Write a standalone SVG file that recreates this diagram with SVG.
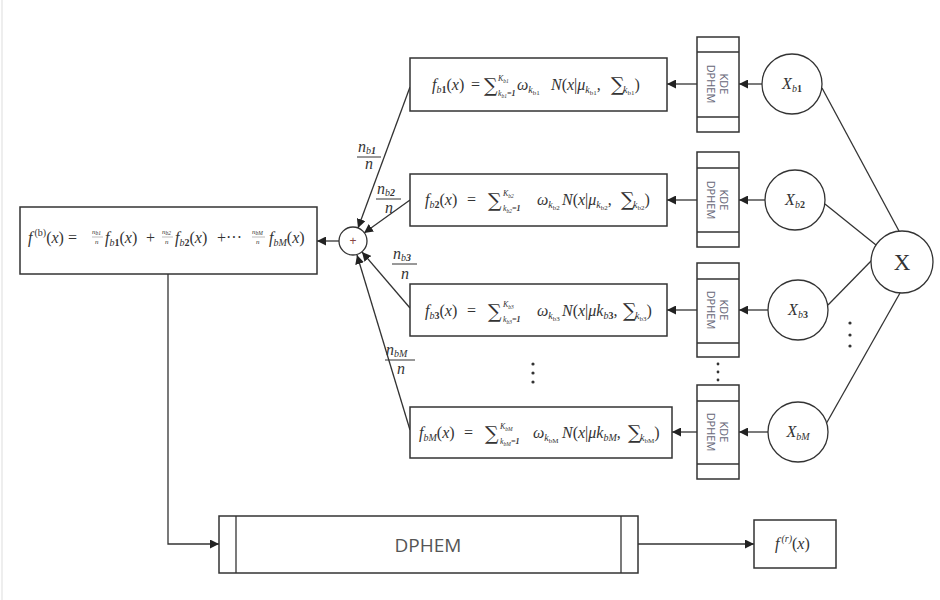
<svg xmlns="http://www.w3.org/2000/svg" width="940" height="600" viewBox="0 0 940 600">
<defs>
<marker id="ah" viewBox="0 0 10 10" refX="10" refY="5" markerWidth="9" markerHeight="9" markerUnits="userSpaceOnUse" orient="auto">
<path d="M0,0 L10,5 L0,10 z" fill="#222"/>
</marker>
<style>
.box{fill:#fff;stroke:#333;stroke-width:1.5}
.ln{fill:none;stroke:#333;stroke-width:1.3}
.arr{fill:none;stroke:#333;stroke-width:1.3;marker-end:url(#ah)}
.m{font-family:"Liberation Serif","DejaVu Serif",serif;font-size:16px;fill:#333}
.i{font-style:italic}
.s{font-size:10px}
.t{font-size:7px}
.l{font-size:8px}
.lt{font-size:5.5px}
.f{font-size:7px}
.b{font-weight:bold}
.sig{font-family:"DejaVu Serif","Liberation Serif",serif;font-size:19px;fill:#333}
.kde{font-family:"Open Sans","Liberation Sans",sans-serif;font-size:11px;fill:#667}
.dot{fill:#333}
</style>
</defs>
<rect x="0" y="0" width="940" height="600" fill="#fff"/>
<line x1="2" y1="0" x2="2" y2="600" stroke="#ddd" stroke-width="1"/>

<g id="connectors">
<line class="arr" x1="762" y1="84" x2="739" y2="84"/>
<line class="arr" x1="697" y1="84" x2="667" y2="84"/>
<line class="arr" x1="765" y1="200" x2="739" y2="200"/>
<line class="arr" x1="697" y1="200" x2="667" y2="200"/>
<line class="arr" x1="768" y1="310" x2="739" y2="310"/>
<line class="arr" x1="697" y1="310" x2="667" y2="310"/>
<line class="arr" x1="768" y1="432" x2="739" y2="432"/>
<line class="arr" x1="697" y1="432" x2="672" y2="432"/>
<line class="ln" x1="822" y1="88" x2="899" y2="231"/>
<line class="ln" x1="825" y1="204" x2="876" y2="245"/>
<line class="ln" x1="828" y1="305" x2="873" y2="259"/>
<line class="ln" x1="826" y1="424" x2="900" y2="293"/>
<line class="arr" x1="410" y1="87" x2="358" y2="228"/>
<line class="arr" x1="410" y1="200" x2="364" y2="233"/>
<line class="arr" x1="410" y1="308" x2="362" y2="252"/>
<line class="arr" x1="410" y1="430" x2="357" y2="255"/>
<line class="arr" x1="339" y1="241" x2="317" y2="241"/>
<polyline class="arr" points="168,274 168,544 219,544"/>
<line class="arr" x1="638" y1="544" x2="754" y2="544"/>
</g>

<g id="labels">
<text class="m i" x="358" y="152">n<tspan class="s" dy="2">b</tspan><tspan class="s b">1</tspan></text>
<line x1="357" y1="157" x2="381" y2="157" stroke="#333" stroke-width="1"/>
<text class="m i" x="365" y="169">n</text>
<text class="m i" x="377" y="194">n<tspan class="s" dy="2">b</tspan><tspan class="s b">2</tspan></text>
<line x1="376" y1="199" x2="401" y2="199" stroke="#333" stroke-width="1"/>
<text class="m i" x="385" y="213">n</text>
<text class="m i" x="393" y="259">n<tspan class="s" dy="2">b</tspan><tspan class="s b">3</tspan></text>
<line x1="392" y1="264" x2="417" y2="264" stroke="#333" stroke-width="1"/>
<text class="m i" x="401" y="279">n</text>
<text class="m i" x="386" y="355">n<tspan class="s" dy="2">bM</tspan></text>
<line x1="385" y1="360" x2="415" y2="360" stroke="#333" stroke-width="1"/>
<text class="m i" x="397" y="374">n</text>
<circle class="dot" cx="533" cy="364" r="1.6"/>
<circle class="dot" cx="533" cy="373" r="1.6"/>
<circle class="dot" cx="533" cy="382" r="1.6"/>
<circle class="dot" cx="718" cy="364" r="1.4"/>
<circle class="dot" cx="718" cy="372" r="1.4"/>
<circle class="dot" cx="718" cy="380" r="1.4"/>
<circle class="dot" cx="850" cy="323" r="1.6"/>
<circle class="dot" cx="850" cy="335" r="1.6"/>
<circle class="dot" cx="850" cy="346" r="1.6"/>
</g>

<g id="fb">
<rect class="box" x="20" y="207" width="297" height="67"/>
<text class="m" x="28" y="243"><tspan class="i">f</tspan><tspan class="s" dx="2" dy="-7">(b)</tspan><tspan dy="7">(</tspan><tspan class="i">x</tspan>) =</text>
<text class="m i f" x="92" y="234">n<tspan class="lt" dy="1">b1</tspan></text>
<line x1="92" y1="237" x2="103" y2="237" stroke="#777" stroke-width="0.5"/>
<text class="m i f" x="95" y="244">n</text>
<text class="m" x="105" y="243"><tspan class="i">f</tspan><tspan class="s i" dy="3">b</tspan><tspan class="s b">1</tspan><tspan dy="-3">(</tspan><tspan class="i">x</tspan>)</text>
<text class="m" x="146" y="243">+</text>
<text class="m i f" x="162" y="234">n<tspan class="lt" dy="1">b2</tspan></text>
<line x1="162" y1="237" x2="173" y2="237" stroke="#777" stroke-width="0.5"/>
<text class="m i f" x="165" y="244">n</text>
<text class="m" x="175" y="243"><tspan class="i">f</tspan><tspan class="s i" dy="3">b</tspan><tspan class="s b">2</tspan><tspan dy="-3">(</tspan><tspan class="i">x</tspan>)</text>
<text class="m" x="217" y="243">+···</text>
<text class="m i f" x="252" y="234">n<tspan class="lt" dy="1">bM</tspan></text>
<line x1="252" y1="237" x2="265" y2="237" stroke="#777" stroke-width="0.5"/>
<text class="m i f" x="256" y="244">n</text>
<text class="m" x="269" y="243"><tspan class="i">f</tspan><tspan class="s i" dy="3">bM</tspan><tspan dy="-3">(</tspan><tspan class="i">x</tspan>)</text>
</g>

<g id="plus">
<circle cx="353" cy="241" r="14" fill="#fff" stroke="#333" stroke-width="1.3"/>
<text x="353" y="245" text-anchor="middle" font-family="Liberation Sans,sans-serif" font-size="12" fill="#844">+</text>
</g>

<g id="f1">
<rect class="box" x="410" y="58" width="257" height="53"/>
<text class="m" x="432" y="90"><tspan class="i">f</tspan><tspan class="s i" dy="3">b</tspan><tspan class="s b">1</tspan><tspan dy="-3">(</tspan><tspan class="i">x</tspan>)</text>
<text class="m" x="471" y="90">=</text>
<text class="sig" x="484" y="92">∑</text>
<text class="m i l" x="498" y="81">K<tspan class="lt" dy="1.5">b1</tspan></text>
<text class="m i l" x="498" y="96">k<tspan class="lt" dy="1.5">b1</tspan><tspan class="b" dy="-1.5">=1</tspan></text>
<text class="m" x="517" y="90"><tspan class="i">ω</tspan><tspan class="s i" dy="3">k</tspan><tspan class="t" dy="2">b1</tspan></text>
<text class="m" x="551" y="90"><tspan class="i">N</tspan>(<tspan class="i">x</tspan>|<tspan class="i">μ</tspan><tspan class="s i" dy="3">k</tspan><tspan class="t" dy="2">b1</tspan><tspan dy="-5">,</tspan></text>
<text class="sig" x="611" y="91" font-size="15">∑</text>
<text class="m" x="623" y="90"><tspan class="s i" dy="3">k</tspan><tspan class="t" dy="2">b1</tspan><tspan dy="-5">)</tspan></text>
</g>

<g id="f2">
<rect class="box" x="410" y="174" width="257" height="52"/>
<text class="m" x="425" y="205"><tspan class="i">f</tspan><tspan class="s i" dy="3">b</tspan><tspan class="s b">2</tspan><tspan dy="-3">(</tspan><tspan class="i">x</tspan>)</text>
<text class="m" x="467" y="205">=</text>
<text class="sig" x="488" y="207">∑</text>
<text class="m i l" x="503" y="196">K<tspan class="lt" dy="1.5">b2</tspan></text>
<text class="m i l" x="503" y="211">k<tspan class="lt" dy="1.5">b2</tspan><tspan class="b" dy="-1.5">=1</tspan></text>
<text class="m" x="537" y="205"><tspan class="i">ω</tspan><tspan class="s i" dy="3">k</tspan><tspan class="t" dy="2">b2</tspan></text>
<text class="m" x="562" y="205"><tspan class="i">N</tspan>(<tspan class="i">x</tspan>|<tspan class="i">μ</tspan><tspan class="s i" dy="3">k</tspan><tspan class="t" dy="2">b2</tspan><tspan dy="-5">,</tspan></text>
<text class="sig" x="621" y="206" font-size="15">∑</text>
<text class="m" x="633" y="205"><tspan class="s i" dy="3">k</tspan><tspan class="t" dy="2">b2</tspan><tspan dy="-5">)</tspan></text>
</g>

<g id="f3">
<rect class="box" x="410" y="284" width="257" height="52"/>
<text class="m" x="425" y="316"><tspan class="i">f</tspan><tspan class="s i" dy="3">b</tspan><tspan class="s b">3</tspan><tspan dy="-3">(</tspan><tspan class="i">x</tspan>)</text>
<text class="m" x="467" y="316">=</text>
<text class="sig" x="488" y="318">∑</text>
<text class="m i l" x="503" y="307">K<tspan class="lt" dy="1.5">b3</tspan></text>
<text class="m i l" x="503" y="322">k<tspan class="lt" dy="1.5">b3</tspan><tspan class="b" dy="-1.5">=1</tspan></text>
<text class="m" x="537" y="316"><tspan class="i">ω</tspan><tspan class="s i" dy="3">k</tspan><tspan class="t" dy="2">b3</tspan></text>
<text class="m" x="562" y="316"><tspan class="i">N</tspan>(<tspan class="i">x</tspan>|<tspan class="i">μk</tspan><tspan class="s i" dy="3">b</tspan><tspan class="s b">3</tspan><tspan dy="-3">,</tspan></text>
<text class="sig" x="623" y="317" font-size="15">∑</text>
<text class="m" x="635" y="316"><tspan class="s i" dy="3">k</tspan><tspan class="t" dy="2">b3</tspan><tspan dy="-5">)</tspan></text>
</g>

<g id="f4">
<rect class="box" x="410" y="407" width="262" height="51"/>
<text class="m" x="419" y="438"><tspan class="i">f</tspan><tspan class="s i" dy="3">bM</tspan><tspan dy="-3">(</tspan><tspan class="i">x</tspan>)</text>
<text class="m" x="464" y="438">=</text>
<text class="sig" x="485" y="440">∑</text>
<text class="m i l" x="500" y="429">K<tspan class="lt" dy="1.5">bM</tspan></text>
<text class="m i l" x="500" y="444">k<tspan class="lt" dy="1.5">bM</tspan><tspan class="b" dy="-1.5">=1</tspan></text>
<text class="m" x="533" y="438"><tspan class="i">ω</tspan><tspan class="s i" dy="3">k</tspan><tspan class="t" dy="2">bM</tspan></text>
<text class="m" x="562" y="438"><tspan class="i">N</tspan>(<tspan class="i">x</tspan>|<tspan class="i">μk</tspan><tspan class="s i" dy="3">bM</tspan><tspan dy="-3">,</tspan></text>
<text class="sig" x="628" y="439" font-size="15">∑</text>
<text class="m" x="640" y="438"><tspan class="s i" dy="3">k</tspan><tspan class="t" dy="2">bM</tspan><tspan dy="-5">)</tspan></text>
</g>

<g id="kde1">
<rect class="box" x="697" y="37" width="42" height="95"/>
<line class="ln" x1="697" y1="52" x2="739" y2="52"/>
<line class="ln" x1="697" y1="117" x2="739" y2="117"/>
<text class="kde" transform="translate(718,84) rotate(90)" text-anchor="middle"><tspan x="0" y="-2">KDE</tspan><tspan x="0" y="11">DPHEM</tspan></text>
</g>
<g id="kde2">
<rect class="box" x="697" y="152" width="42" height="95"/>
<line class="ln" x1="697" y1="168" x2="739" y2="168"/>
<line class="ln" x1="697" y1="232" x2="739" y2="232"/>
<text class="kde" transform="translate(718,200) rotate(90)" text-anchor="middle"><tspan x="0" y="-2">KDE</tspan><tspan x="0" y="11">DPHEM</tspan></text>
</g>
<g id="kde3">
<rect class="box" x="697" y="263" width="42" height="94"/>
<line class="ln" x1="697" y1="279" x2="739" y2="279"/>
<line class="ln" x1="697" y1="343" x2="739" y2="343"/>
<text class="kde" transform="translate(718,310) rotate(90)" text-anchor="middle"><tspan x="0" y="-2">KDE</tspan><tspan x="0" y="11">DPHEM</tspan></text>
</g>
<g id="kde4">
<rect class="box" x="697" y="385" width="42" height="94"/>
<line class="ln" x1="697" y1="401" x2="739" y2="401"/>
<line class="ln" x1="697" y1="464" x2="739" y2="464"/>
<text class="kde" transform="translate(718,432) rotate(90)" text-anchor="middle"><tspan x="0" y="-2">KDE</tspan><tspan x="0" y="11">DPHEM</tspan></text>
</g>

<g id="xb1">
<circle cx="792" cy="84" r="30" fill="#fff" stroke="#333" stroke-width="1.3"/>
<text class="m" x="792" y="89" text-anchor="middle" font-size="17"><tspan class="i">X</tspan><tspan class="s i" dy="3">b</tspan><tspan class="s b">1</tspan></text>
</g>
<g id="xb2">
<circle cx="795" cy="200" r="30" fill="#fff" stroke="#333" stroke-width="1.3"/>
<text class="m" x="795" y="205" text-anchor="middle" font-size="17"><tspan class="i">X</tspan><tspan class="s i" dy="3">b</tspan><tspan class="s b">2</tspan></text>
</g>
<g id="xb3">
<circle cx="798" cy="310" r="30" fill="#fff" stroke="#333" stroke-width="1.3"/>
<text class="m" x="798" y="315" text-anchor="middle" font-size="17"><tspan class="i">X</tspan><tspan class="s i" dy="3">b</tspan><tspan class="s b">3</tspan></text>
</g>
<g id="xbM">
<circle cx="798" cy="432" r="30" fill="#fff" stroke="#333" stroke-width="1.3"/>
<text class="m" x="798" y="437" text-anchor="middle" font-size="17"><tspan class="i">X</tspan><tspan class="s i" dy="3">bM</tspan></text>
</g>
<g id="X">
<circle cx="902" cy="262" r="31" fill="#fff" stroke="#333" stroke-width="1.3"/>
<text x="902" y="270" text-anchor="middle" font-family="Liberation Serif,serif" font-size="23" fill="#333">X</text>
</g>

<g id="dphem">
<rect class="box" x="219" y="516" width="419" height="57"/>
<line class="ln" x1="236" y1="516" x2="236" y2="573"/>
<line class="ln" x1="621" y1="516" x2="621" y2="573"/>
<text x="428" y="552" text-anchor="middle" font-family="Open Sans,Liberation Sans,sans-serif" font-size="19" fill="#555">DPHEM</text>
</g>
<g id="fr">
<rect class="box" x="754" y="520" width="82" height="48"/>
<text class="m" x="775" y="549"><tspan class="i">f</tspan><tspan class="s i" dx="2" dy="-7">(r)</tspan><tspan dy="7">(</tspan><tspan class="i">x</tspan>)</text>
</g>
</svg>
